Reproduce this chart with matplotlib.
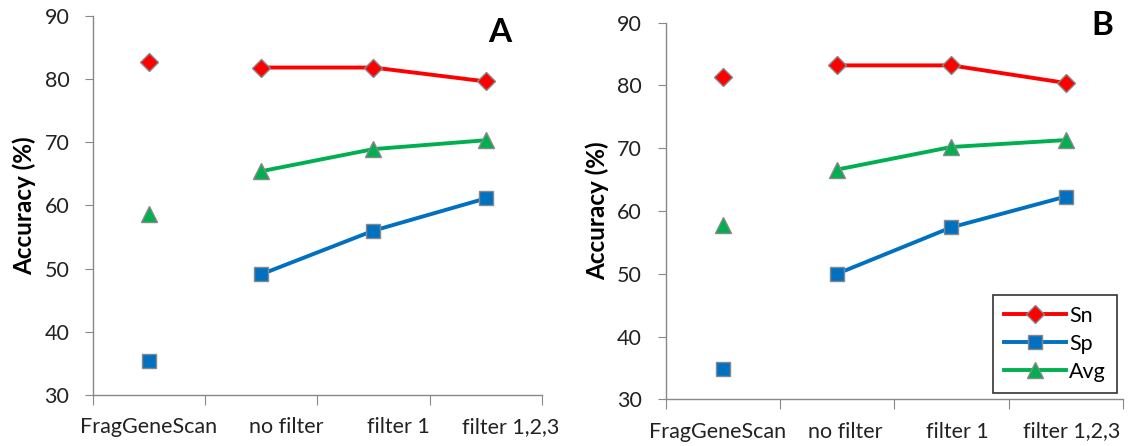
import matplotlib.pyplot as plt

plt.rcParams['font.family'] = ['Lato', 'DejaVu Sans']

# --- DATI ---
categories = ["FragGeneScan", "no filter", "filter 1", "filter 1,2,3"]

# Pannello A
sn_a = [82.6, 81.8, 81.8, 79.6]
sp_a = [35.4, 49.1, 56.0, 61.1]
avg_a = [58.7, 65.4, 68.9, 70.3]

# Pannello B
sn_b = [81.3, 83.2, 83.2, 80.4]
sp_b = [34.8, 50.0, 57.4, 62.3]
avg_b = [57.7, 66.6, 70.2, 71.3]

# --- STILE ---
series_styles = {
    "Sn": {"color": "#FF0000", "marker": "D", "markersize": 9},
    "Sp": {"color": "#0070C0", "marker": "s", "markersize": 10},
    "Avg": {"color": "#00B050", "marker": "^", "markersize": 12},
}
GRAY = "#888888"


def draw_panel(ax, sn, sp, avg, letter, letter_pos, label_shift, legend=False):
    x = list(range(len(categories)))
    for name, vals in (("Sn", sn), ("Sp", sp), ("Avg", avg)):
        st = series_styles[name]
        # FragGeneScan punto isolato, le altre categorie collegate
        ax.plot(x[1:], vals[1:], color=st["color"], linewidth=2.8,
                marker=st["marker"], markersize=st["markersize"],
                markerfacecolor=st["color"], markeredgecolor=GRAY,
                markeredgewidth=1.0, label=name, zorder=3)
        ax.plot(x[:1], vals[:1], linestyle="none", marker=st["marker"],
                markersize=st["markersize"], markerfacecolor=st["color"],
                markeredgecolor=GRAY, markeredgewidth=1.0, zorder=3)

    ax.set_xlim(-0.5, len(categories) - 0.5)
    ax.set_ylim(30, 90)
    ax.set_yticks(range(30, 91, 10))

    # tacche sui confini delle categorie, etichette a parte
    ax.set_xticks([i - 0.5 for i in range(len(categories) + 1)])
    ax.set_xticklabels([])
    ax.set_xticks([i + s for i, s in enumerate(label_shift)], minor=True)
    ax.set_xticklabels(categories, minor=True)
    ax.tick_params(axis="x", which="minor", length=0, pad=16, labelsize=15.5,
                   labelcolor="#222222")
    ax.tick_params(axis="x", which="major", length=7, color=GRAY,
                   direction="out")
    ax.tick_params(axis="y", length=6, color=GRAY, direction="out",
                   labelsize=15.5, labelcolor="#222222", pad=11)

    for side in ("top", "right"):
        ax.spines[side].set_visible(False)
    for side in ("left", "bottom"):
        ax.spines[side].set_color(GRAY)
        ax.spines[side].set_linewidth(1.0)

    ax.set_ylabel("Accuracy (%)", fontweight="bold", fontsize=17.5,
                  labelpad=6)
    ax.text(letter_pos[0], letter_pos[1], letter, transform=ax.transAxes,
            ha="right", va="top", fontsize=24, fontweight="bold")

    if legend:
        leg = ax.legend(loc="lower right", bbox_to_anchor=(0.987, 0.0175),
                        borderaxespad=0, fontsize=15.5, frameon=True,
                        fancybox=False, edgecolor="black", handlelength=2.9,
                        handletextpad=0.15, borderpad=0.5,
                        labelspacing=0.38, markerscale=1.0)
        leg.get_frame().set_linewidth(1.2)


fig = plt.figure(figsize=(11.3, 4.46), dpi=100)
ax_a = fig.add_axes([0.0822, 0.1143, 0.3973, 0.8505])
ax_b = fig.add_axes([0.5891, 0.1047, 0.4046, 0.8444])

draw_panel(ax_a, sn_a, sp_a, avg_a, "A", (0.931, 0.995),
           [0.0, 0.22, 0.22, 0.22])
draw_panel(ax_b, sn_b, sp_b, avg_b, "B", (0.978, 1.03),
           [-0.05, 0.07, 0.05, 0.05], legend=True)

fig.savefig("out.png", dpi=100)
